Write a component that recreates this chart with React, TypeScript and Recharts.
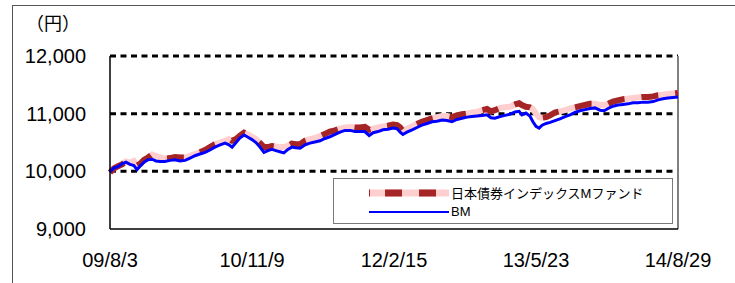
import { LineChart, Line, XAxis, YAxis, ReferenceLine, Legend } from 'recharts'

// 経過日数 (09/8/3 起点)
const days = [0, 13, 26, 39, 52, 65, 78, 88, 98, 111, 124, 137, 150, 163, 179, 196, 212, 228, 245, 261, 277, 293, 310, 326, 342, 359, 375, 388, 398, 411, 424, 437, 450, 463, 476, 489, 502, 515, 528, 541, 554, 567, 580, 593, 606, 620, 636, 652, 668, 685, 701, 717, 734, 750, 766, 783, 799, 815, 831, 845, 858, 874, 890, 906, 923, 936, 946, 955, 968, 985, 1001, 1017, 1034, 1050, 1066, 1083, 1099, 1115, 1131, 1148, 1164, 1180, 1197, 1213, 1229, 1242, 1255, 1272, 1288, 1304, 1321, 1334, 1343, 1356, 1369, 1379, 1389, 1399, 1409, 1422, 1435, 1451, 1467, 1484, 1500, 1516, 1532, 1549, 1565, 1581, 1598, 1611, 1624, 1640, 1656, 1673, 1689, 1705, 1722, 1738, 1754, 1771, 1787, 1803, 1819, 1836, 1852]

const fund = [9980, 10050, 10090, 10120, 10170, 10150, 10180, 10100, 10130, 10200, 10240, 10290, 10270, 10240, 10220, 10230, 10250, 10240, 10240, 10270, 10300, 10330, 10370, 10420, 10470, 10500, 10530, 10560, 10530, 10560, 10620, 10670, 10640, 10600, 10560, 10490, 10420, 10420, 10440, 10430, 10420, 10420, 10440, 10480, 10470, 10470, 10530, 10560, 10580, 10610, 10650, 10690, 10710, 10740, 10760, 10770, 10760, 10760, 10770, 10720, 10740, 10760, 10780, 10790, 10810, 10800, 10760, 10700, 10740, 10780, 10820, 10860, 10890, 10920, 10940, 10960, 10960, 10940, 10970, 10990, 11000, 11020, 11030, 11060, 11080, 11040, 11060, 11100, 11110, 11120, 11160, 11180, 11150, 11120, 11110, 11080, 11000, 10940, 10930, 10940, 10970, 11020, 11040, 11060, 11090, 11110, 11130, 11150, 11170, 11170, 11150, 11150, 11170, 11210, 11230, 11250, 11260, 11270, 11280, 11290, 11290, 11300, 11320, 11330, 11340, 11350, 11360]

const bm = [9990, 10060, 10080, 10130, 10160, 10120, 10100, 10030, 10090, 10160, 10200, 10210, 10180, 10170, 10170, 10190, 10200, 10180, 10190, 10230, 10270, 10300, 10330, 10370, 10420, 10460, 10490, 10460, 10420, 10500, 10580, 10630, 10590, 10550, 10500, 10420, 10330, 10360, 10380, 10360, 10340, 10320, 10380, 10420, 10410, 10400, 10460, 10490, 10510, 10530, 10570, 10600, 10640, 10680, 10710, 10710, 10690, 10690, 10690, 10620, 10670, 10690, 10720, 10730, 10750, 10740, 10680, 10640, 10680, 10720, 10760, 10800, 10830, 10860, 10870, 10890, 10880, 10860, 10900, 10920, 10940, 10950, 10960, 10970, 10980, 10930, 10920, 10950, 10970, 10990, 11030, 11040, 10980, 11010, 10960, 10860, 10780, 10750, 10800, 10830, 10850, 10880, 10910, 10950, 10980, 11020, 11050, 11070, 11090, 11100, 11060, 11050, 11090, 11130, 11150, 11160, 11170, 11190, 11190, 11200, 11200, 11210, 11240, 11260, 11270, 11280, 11290]

const xTicks = [0, 463, 926, 1389, 1852]
const xLabels = ['09/8/3', '10/11/9', '12/2/15', '13/5/23', '14/8/29']
const yTicks = [9000, 10000, 11000, 12000]
const gridValues = [10000, 11000, 12000]

const FUND_NAME = '日本債券インデックスMファンド'
const FONT = '"Liberation Sans", Arial, "Noto Sans CJK JP", sans-serif'
const PINK = '#ffcfcf'
const DARK_RED = '#a52527'
const BLUE = '#0000ff'

const data = days.map((d, i) => ({ day: d, fund: fund[i], bm: bm[i] }))

function LegendBox() {
  return (
    <div
      style={{
        width: 340,
        height: 46,
        boxSizing: 'border-box',
        border: '1.5px solid #7a7a7a',
        background: '#fff',
        fontFamily: FONT,
        fontSize: 13,
        color: '#000',
        position: 'relative',
      }}
    >
      <div style={{ position: 'absolute', left: 34, top: 4, display: 'flex', alignItems: 'center' }}>
        <svg width={82} height={10}>
          <line x1={1} y1={5} x2={81} y2={5} stroke={PINK} strokeWidth={7} />
          <line x1={1} y1={5} x2={81} y2={5} stroke={DARK_RED} strokeWidth={7} strokeDasharray="1 15 17 17 17 15 1" />
        </svg>
        <span style={{ marginLeft: 1 }}>{FUND_NAME}</span>
      </div>
      <div style={{ position: 'absolute', left: 34, top: 25, display: 'flex', alignItems: 'center' }}>
        <svg width={82} height={10}>
          <line x1={1} y1={5} x2={81} y2={5} stroke={BLUE} strokeWidth={2} />
        </svg>
        <span style={{ marginLeft: 1 }}>BM</span>
      </div>
    </div>
  )
}

export default function App() {
  return (
    <div style={{ position: 'absolute', left: 0, top: 0, width: 735, height: 283, background: '#fff', overflow: 'hidden' }}>
      {/* 外枠 */}
      <div
        style={{
          position: 'absolute',
          left: 12,
          top: 5,
          width: 740,
          height: 300,
          borderTop: '1.5px solid #555',
          borderLeft: '1.5px solid #555',
        }}
      />
      <div style={{ position: 'absolute', left: 26, top: 9, fontFamily: FONT, fontSize: 18, color: '#000' }}>（円）</div>

      <LineChart
        width={735}
        height={283}
        data={data}
        margin={{ top: 56, right: 57, bottom: 0, left: 0 }}
        style={{ position: 'absolute', left: 0, top: 0 }}
      >
        <XAxis
          dataKey="day"
          type="number"
          domain={[0, 1852]}
          ticks={xTicks}
          tickFormatter={(v: number) => xLabels[xTicks.indexOf(v)]}
          height={54}
          tickLine={false}
          tickSize={0}
          tickMargin={24}
          axisLine={{ stroke: '#000', strokeWidth: 1.5 }}
          tick={{ fill: '#000', fontSize: 20, fontFamily: FONT }}
          interval={0}
        />
        <YAxis
          type="number"
          domain={[9000, 12000]}
          ticks={yTicks}
          tickFormatter={(v: number) => v.toLocaleString('en-US')}
          width={110}
          tickLine={false}
          tickSize={0}
          tickMargin={24}
          axisLine={{ stroke: '#000', strokeWidth: 1.5 }}
          tick={{ fill: '#000', fontSize: 20, fontFamily: FONT }}
        />
        {gridValues.map((v) => (
          <ReferenceLine key={v} y={v} stroke="#000" strokeWidth={3} strokeDasharray="6 4.5" />
        ))}
        <ReferenceLine x={1852} stroke="#808080" strokeWidth={2} />
        <Line
          dataKey="fund"
          stroke={PINK}
          strokeWidth={6}
          dot={false}
          isAnimationActive={false}
          legendType="none"
        />
        <Line
          dataKey="fund"
          name={FUND_NAME}
          stroke={DARK_RED}
          strokeWidth={6}
          strokeDasharray="17 17"
          dot={false}
          isAnimationActive={false}
        />
        <Line dataKey="bm" name="BM" stroke={BLUE} strokeWidth={3} dot={false} isAnimationActive={false} />
        <Legend
          layout="vertical"
          align="center"
          verticalAlign="middle"
          content={() => <LegendBox />}
          wrapperStyle={{ left: 333, top: 178, width: 340, height: 46 }}
        />
      </LineChart>
    </div>
  )
}
